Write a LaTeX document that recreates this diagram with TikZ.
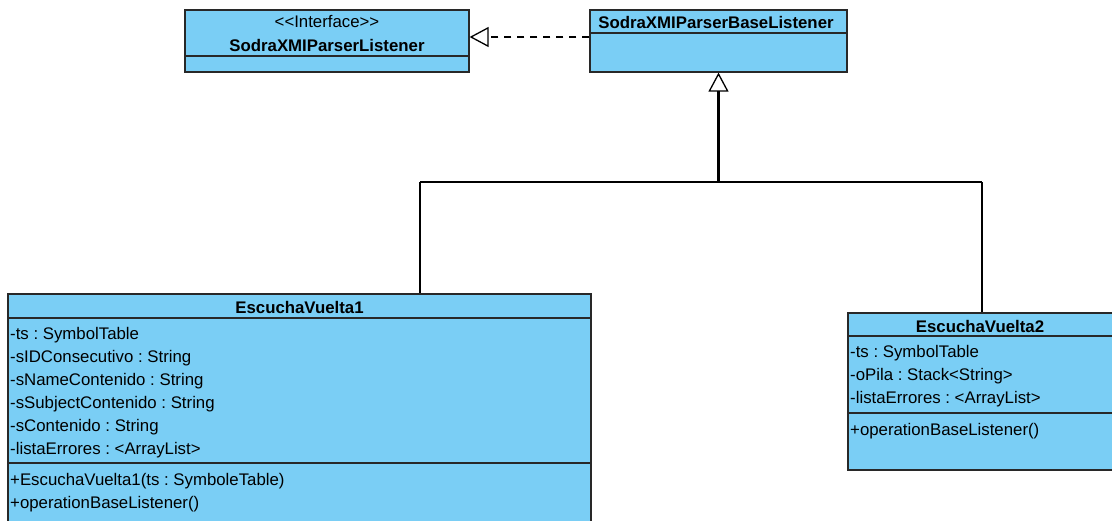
\documentclass[tikz,border=0pt]{standalone}
\usepackage{fontspec}
\setmainfont{Liberation Sans}
\frenchspacing
\usetikzlibrary{arrows.meta}
\definecolor{classfill}{RGB}{122,206,245}
\definecolor{classline}{RGB}{40,40,40}
\tikzset{
  classbox/.style={draw=classline, fill=classfill, line width=1.2pt, rectangle, inner sep=0pt},
  divider/.style={draw=classline, line width=1.1pt},
  member/.style={anchor=west, inner sep=0pt, font=\fontsize{16.8}{19}\selectfont},
  title/.style={inner sep=0pt, font=\fontsize{16.8}{19}\selectfont\bfseries},
  stereo/.style={inner sep=0pt, font=\fontsize{16.8}{19}\selectfont},
  link/.style={draw=black, line width=1.1pt},
  realizes/.style={link, dashed, dash pattern=on 7pt off 6pt, -{Triangle[open, length=19pt, width=20pt, line width=1.3pt]}},
  inherits/.style={draw=black, line width=2.2pt, -{Triangle[open, length=19pt, width=20pt, line width=1.3pt]}},
}
\begin{document}
\begin{tikzpicture}[x=1pt, y=-1pt]
\useasboundingbox (0,0) rectangle (1112,520);
\clip (0,0) rectangle (1112,520);
\fill[white] (0,0) rectangle (1112,520);

% interface SodraXMIParserListener
\node[classbox, minimum width=284pt, minimum height=62pt] (iface) at (327,41) {};
\draw[divider] (185,56) -- (469,56);
\node[stereo] (ifacest) at (327,22) {{<}{<}Interface{>}{>}};
\node[title] (ifacenm) at (327,45) {SodraXMIParserListener};

% base listener class
\node[classbox, minimum width=257pt, minimum height=62pt] (base) at (718.5,41) {};
\draw[divider] (590,33) -- (847,33);
\node[title] (basenm) at (716,22) {SodraXMIParserBaseListener};

% EscuchaVuelta1
\node[classbox, minimum width=583pt, minimum height=246pt] (ev1) at (299.5,417) {};
\draw[divider] (8,318) -- (591,318);
\draw[divider] (8,463) -- (591,463);
\node[title] (ev1nm) at (299.5,307) {EscuchaVuelta1};
\node[member] (a1) at (10,335) {-ts : SymbolTable};
\node[member] (a2) at (10,358) {-sIDConsecutivo : String};
\node[member] (a3) at (10,381) {-sNameContenido : String};
\node[member] (a4) at (10,404) {-sSubjectContenido : String};
\node[member] (a5) at (10,427) {-sContenido : String};
\node[member] (a6) at (10,450) {-listaErrores : <ArrayList>};
\node[member] (m1) at (10,481) {+EscuchaVuelta1(ts : SymboleTable)};
\node[member] (m2) at (10,504) {+operationBaseListener()};

% EscuchaVuelta2
\node[classbox, minimum width=282pt, minimum height=157pt] (ev2) at (989,391.5) {};
\draw[divider] (848,336) -- (1130,336);
\draw[divider] (848,413) -- (1130,413);
\node[title] (ev2nm) at (980,326) {EscuchaVuelta2};
\node[member] (b1) at (850,353) {-ts : SymbolTable};
\node[member] (b2) at (850,376) {-oPila : Stack<String>};
\node[member] (b3) at (850,399) {-listaErrores : <ArrayList>};
\node[member] (n1) at (850,431) {+operationBaseListener()};

% realization
\draw[realizes] ([yshift=4pt]base.west) -- ([yshift=4pt]iface.east);

% generalization tree
\coordinate (j) at (718.5,182);
\coordinate (j1) at (420,182);
\coordinate (j2) at (982,182);
\draw[inherits] (j) -- (base.south);
\draw[link] (j1) -- (j2);
\draw[link] (j1) -- (j1 |- ev1.north);
\draw[link] (j2) -- (j2 |- ev2.north);
\end{tikzpicture}
\end{document}
